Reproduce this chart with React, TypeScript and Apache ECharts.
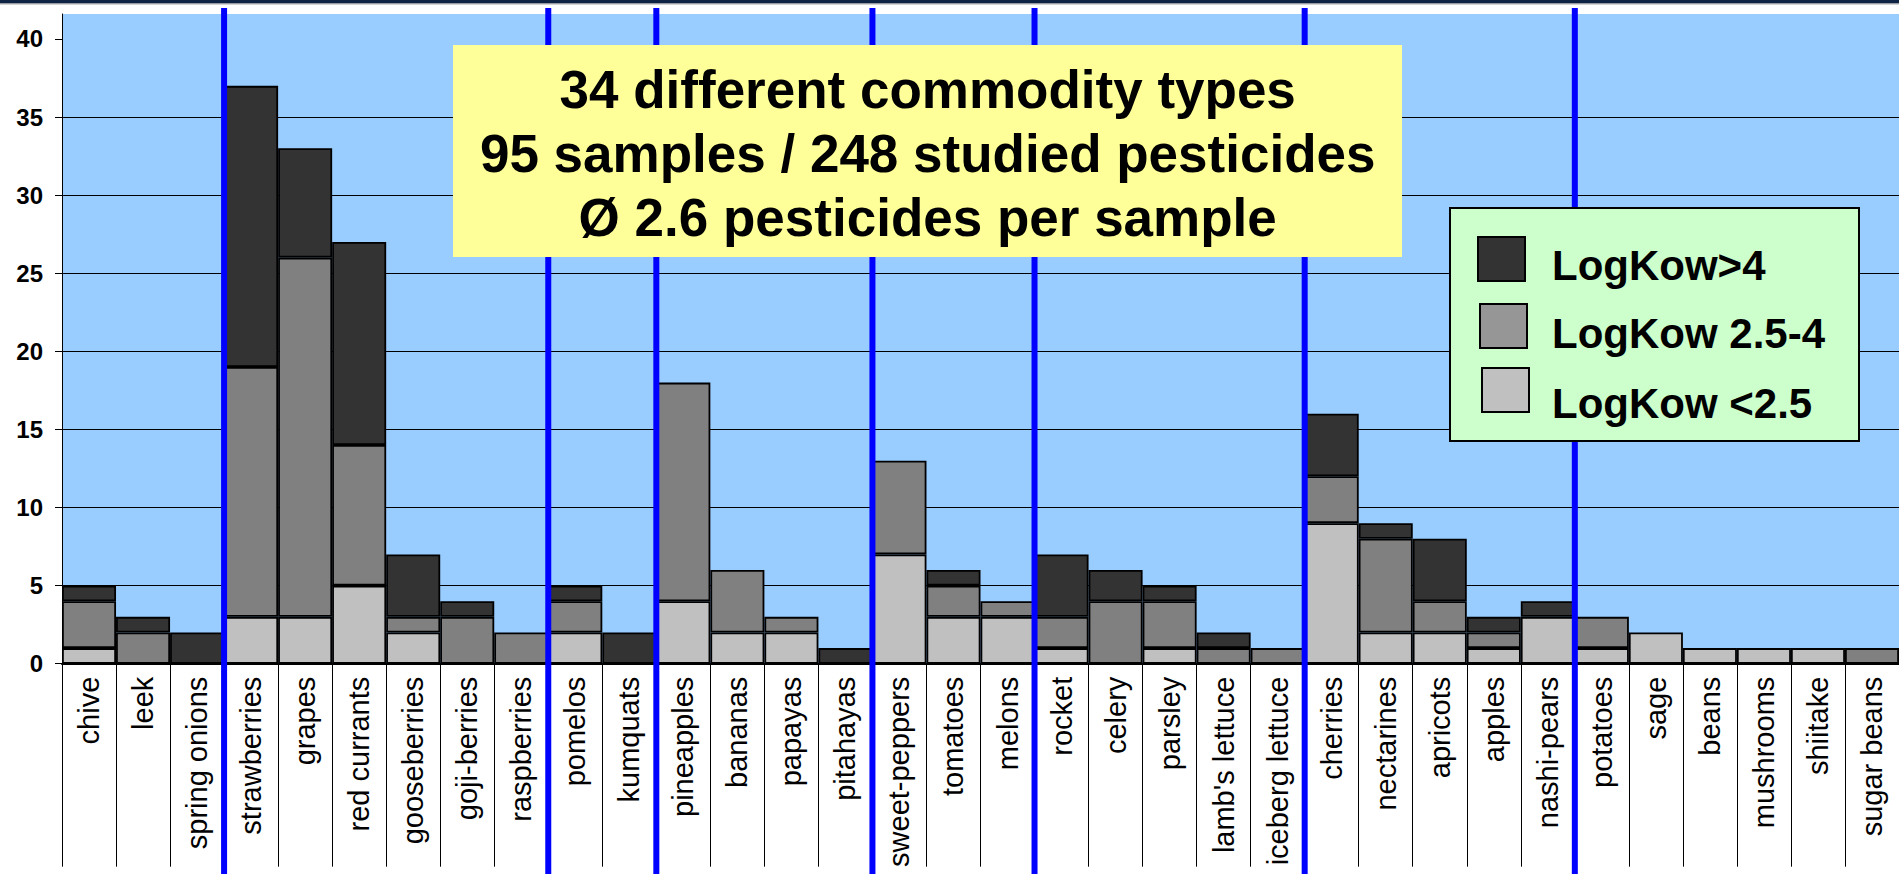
import React, { useEffect, useRef } from "react";
import * as echarts from "echarts";

const categories = [
  "chive", "leek", "spring onions", "strawberries", "grapes", "red currants",
  "gooseberries", "goji-berries", "raspberries", "pomelos", "kumquats",
  "pineapples", "bananas", "papayas", "pitahayas", "sweet-peppers", "tomatoes",
  "melons", "rocket", "celery", "parsley", "lamb's lettuce", "iceberg lettuce",
  "cherries", "nectarines", "apricots", "apples", "nashi-pears", "potatoes",
  "sage", "beans", "mushrooms", "shiitake", "sugar beans",
];

// LogKow <2.5 (light grey, bottom)
const lowKow = [1, 0, 0, 3, 3, 5, 2, 0, 0, 2, 0, 4, 2, 2, 0, 7, 3, 3, 1, 0, 1, 0, 0, 9, 2, 2, 1, 3, 1, 2, 1, 1, 1, 0];
// LogKow 2.5-4 (mid grey)
const midKow = [3, 2, 0, 16, 23, 9, 1, 3, 2, 2, 0, 14, 4, 1, 0, 6, 2, 1, 2, 4, 3, 1, 1, 3, 6, 2, 1, 0, 2, 0, 0, 0, 0, 1];
// LogKow >4 (dark grey, top)
const highKow = [1, 1, 2, 18, 7, 13, 4, 1, 0, 1, 2, 0, 0, 0, 1, 0, 1, 0, 4, 2, 1, 1, 0, 4, 1, 4, 1, 1, 0, 0, 0, 0, 0, 0];

const groupStarts = ["strawberries", "pomelos", "pineapples", "sweet-peppers", "rocket", "cherries", "potatoes"];

const yTicks = [0, 5, 10, 15, 20, 25, 30, 35, 40];

const legendLabels = ["LogKow>4", "LogKow 2.5-4", "LogKow <2.5"];

const summaryLines = [
  "34 different commodity types",
  "95 samples / 248 studied pesticides",
  "Ø 2.6 pesticides per sample",
];

const FONT = '"Liberation Sans", Arial, sans-serif';
const W = 1899;
const H = 874;

const toBar = (arr: number[]) => arr.map((v) => (v === 0 ? "-" : v));

export default function App() {
  const ref = useRef<HTMLDivElement>(null);

  useEffect(() => {
    const el = ref.current;
    if (!el) return;
    const chart = echarts.init(el, null, { renderer: "svg" });

    const barStyle = (color: string) => ({
      color,
      borderColor: "#000",
      borderWidth: 1.8,
    });

    const option: any = {
      animation: false,
      backgroundColor: "#ffffff",
      grid: {
        left: 62,
        top: 14,
        width: 1839,
        bottom: H - 663.7,
        show: true,
        backgroundColor: "#99CCFF",
        borderWidth: 0,
        containLabel: false,
      },
      xAxis: {
        type: "category",
        data: categories,
        boundaryGap: true,
        axisLine: { show: true, lineStyle: { color: "#000", width: 2 } },
        axisTick: {
          show: true,
          alignWithLabel: false,
          interval: 0,
          length: 203,
          lineStyle: { color: "#000", width: 1 },
        },
        axisLabel: {
          interval: 0,
          rotate: 90,
          margin: 13,
          fontSize: 29,
          fontFamily: FONT,
          color: "#000",
        },
        splitLine: { show: false },
      },
      yAxis: {
        type: "value",
        min: 0,
        max: 41.6,
        interval: 5,
        axisLine: { show: true, lineStyle: { color: "#000", width: 1 } },
        axisTick: {
          show: true,
          length: 7,
          customValues: yTicks,
          lineStyle: { color: "#000", width: 1 },
        },
        axisLabel: {
          customValues: yTicks,
          margin: 19,
          fontSize: 24,
          fontWeight: "bold",
          fontFamily: FONT,
          color: "#000",
        },
        splitLine: {
          show: true,
          showMaxLine: false,
          lineStyle: { color: "#000", width: 1 },
        },
      },
      series: [
        {
          name: legendLabels[2],
          type: "bar",
          stack: "total",
          barCategoryGap: "0%",
          data: toBar(lowKow),
          itemStyle: barStyle("#C0C0C0"),
        },
        {
          name: legendLabels[1],
          type: "bar",
          stack: "total",
          barCategoryGap: "0%",
          data: toBar(midKow),
          itemStyle: barStyle("#808080"),
        },
        {
          name: legendLabels[0],
          type: "bar",
          stack: "total",
          barCategoryGap: "0%",
          data: toBar(highKow),
          itemStyle: barStyle("#333333"),
        },
      ],
    };

    chart.setOption(option);

    const xs = groupStarts.map((name) => {
      const i = categories.indexOf(name);
      const a = chart.convertToPixel({ xAxisIndex: 0 }, categories[i - 1]) as number;
      const b = chart.convertToPixel({ xAxisIndex: 0 }, categories[i]) as number;
      return (a + b) / 2;
    });

    const graphic: any[] = [];
    graphic.push({
      type: "rect",
      z: 200,
      shape: { x: 0, y: 0, width: W, height: 3.5 },
      style: { fill: "#0f2342" },
    });
    graphic.push({
      type: "rect",
      z: 200,
      shape: { x: 0, y: 3.5, width: W, height: 1 },
      style: { fill: "#a8a8a8" },
    });
    xs.forEach((x) => {
      graphic.push({
        type: "rect",
        z: 100,
        shape: { x: x - 3, y: 8, width: 6, height: H - 8 },
        style: { fill: "#0000FF" },
      });
    });
    // summary box
    graphic.push({
      type: "rect",
      z: 110,
      shape: { x: 453, y: 45, width: 949, height: 212 },
      style: { fill: "#FFFF99" },
    });
    const summaryY = [89.5, 153.5, 217];
    summaryLines.forEach((t, k) => {
      graphic.push({
        type: "text",
        z: 120,
        x: 927.7,
        y: summaryY[k],
        style: {
          text: t,
          fill: "#000",
          fontSize: 53,
          fontWeight: "bold",
          fontFamily: FONT,
          align: "center",
          verticalAlign: "middle",
        },
      });
    });
    // legend box
    graphic.push({
      type: "rect",
      z: 110,
      shape: { x: 1450, y: 208, width: 409, height: 233 },
      style: { fill: "#CCFFCC", stroke: "#000", lineWidth: 2 },
    });
    const swatchColors = ["#333333", "#969696", "#C0C0C0"];
    const swatchX = [1478, 1480, 1482];
    const swatchY = [237, 304, 368];
    const legendTextY = [265, 333, 403];
    legendLabels.forEach((t, k) => {
      graphic.push({
        type: "rect",
        z: 120,
        shape: { x: swatchX[k], y: swatchY[k], width: 47, height: 44 },
        style: { fill: swatchColors[k], stroke: "#000", lineWidth: 2 },
      });
      graphic.push({
        type: "text",
        z: 120,
        x: 1552,
        y: legendTextY[k],
        style: {
          text: t,
          fill: "#000",
          fontSize: 42,
          fontWeight: "bold",
          fontFamily: FONT,
          align: "left",
          verticalAlign: "middle",
        },
      });
    });

    chart.setOption({ graphic });

    return () => {
      chart.dispose();
    };
  }, []);

  return (
    <div
      ref={ref}
      style={{ position: "absolute", left: 0, top: 0, width: W, height: H }}
    />
  );
}
